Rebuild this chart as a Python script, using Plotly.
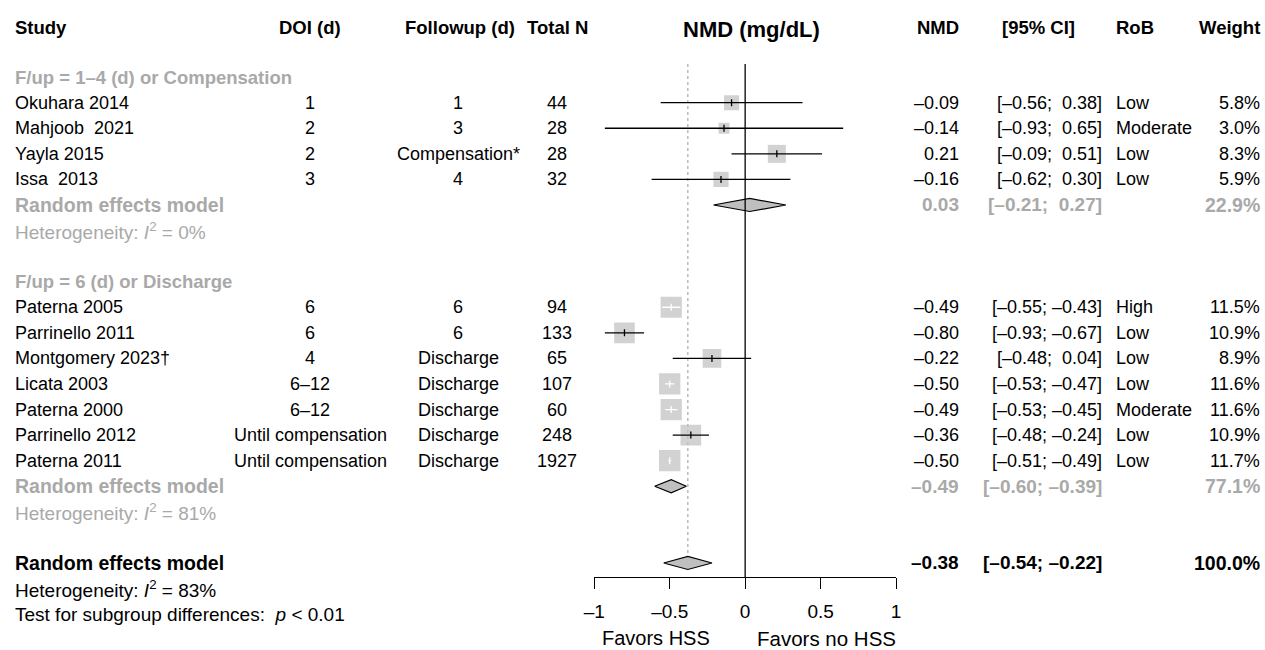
import plotly.graph_objects as go
import math

# ---------------- data ----------------
studies = ["Okuhara 2014", "Mahjoob  2021", "Yayla 2015", "Issa  2013",
           "Paterna 2005", "Parrinello 2011", "Montgomery 2023\u2020", "Licata 2003",
           "Paterna 2000", "Parrinello 2012", "Paterna 2011"]
group = [0, 0, 0, 0, 1, 1, 1, 1, 1, 1, 1]
doi = ["1", "2", "2", "3", "6", "6", "4", "6\u201312", "6\u201312",
       "Until compensation", "Until compensation"]
followup = ["1", "3", "Compensation*", "4", "6", "6", "Discharge", "Discharge",
            "Discharge", "Discharge", "Discharge"]
total_n = [44, 28, 28, 32, 94, 133, 65, 107, 60, 248, 1927]
nmd = [-0.09, -0.14, 0.21, -0.16, -0.49, -0.80, -0.22, -0.50, -0.49, -0.36, -0.50]
ci_lo = [-0.56, -0.93, -0.09, -0.62, -0.55, -0.93, -0.48, -0.53, -0.53, -0.48, -0.51]
ci_hi = [0.38, 0.65, 0.51, 0.30, -0.43, -0.67, 0.04, -0.47, -0.45, -0.24, -0.49]
rob = ["Low", "Moderate", "Low", "Low", "High", "Low", "Low", "Low", "Moderate", "Low", "Low"]
weight = [5.8, 3.0, 8.3, 5.9, 11.5, 10.9, 8.9, 11.6, 11.6, 10.9, 11.7]

sub_labels = ["F/up = 1\u20134 (d) or Compensation", "F/up = 6 (d) or Discharge"]
sub_est = [0.03, -0.49]
sub_lo = [-0.21, -0.60]
sub_hi = [0.27, -0.39]
sub_weight = [22.9, 77.1]
sub_i2 = [0, 81]

overall_est, overall_lo, overall_hi, overall_weight = -0.38, -0.54, -0.22, 100.0
overall_i2 = 83
subgroup_p = "&lt; 0.01"

headers = ["Study", "DOI (d)", "Followup (d)", "Total N", "NMD", "[95% CI]", "RoB", "Weight"]
plot_title = "NMD (mg/dL)"
tick_vals = [-1, -0.5, 0, 0.5, 1]
tick_text = ["\u20131", "\u20130.5", "0", "0.5", "1"]
label_left, label_right = "Favors HSS", "Favors no HSS"

# ---------------- layout constants ----------------
W, H = 1265, 650
ROW_PX = 25.57
R3_PX = 102.7
r_top = 3 - R3_PX / ROW_PX
r_bot = r_top + H / ROW_PX
X_L, X_R = 594.3, 896.0          # pixel of -1 and 1
PX_UNIT = (X_R - X_L) / 2.0
AXIS_PX = 577
TOP_LINE_PX = 64

def prow(px):
    return r_top + px / ROW_PX

FONT = "Liberation Sans, Arial, Helvetica, sans-serif"
F_REG = 18
F_BOLD = 18.5
F_REM = 19.5
F_HET = 19
BLACK = "#000000"
GRAY = "#a9a9a9"
SQ = "#bfbfbf"

def fnum(v):
    s = f"{abs(v):.2f}"
    return ("\u2013" + s) if v < 0 else s

def fci(lo, hi):
    def part(v):
        return ("\u2013" + f"{abs(v):.2f}") if v < 0 else ("\u00a0" + f"{v:.2f}")
    return "[" + part(lo) + "; " + part(hi) + "]"

ann = []
def txt(xpx, r, s, anchor="left", bold=False, color=BLACK, size=None):
    if size is None:
        size = F_BOLD if bold else F_REG
    s = s.replace("  ", " \u00a0")
    if bold:
        s = "<b>" + s + "</b>"
    ann.append(dict(xref="paper", yref="y", x=xpx / W, y=r, text=s,
                    xanchor=anchor, yanchor="middle", showarrow=False,
                    font=dict(family=FONT, size=size, color=color)))

COL_STUDY, COL_DOI, COL_FU, COL_N = 13, 310, 458, 557
COL_NMD, COL_CI, COL_ROB, COL_WT = 961, 1104, 1114, 1262

# headers
HR = 0.05
txt(COL_STUDY, HR, headers[0], "left", True)
txt(COL_DOI, HR, headers[1], "center", True)
txt(460, HR, headers[2], "center", True)
txt(COL_N, HR, headers[3], "center", True)
txt(COL_NMD, HR, headers[4], "right", True)
txt(1038, HR, headers[5], "center", True)
txt(COL_ROB, HR, headers[6], "left", True)
txt(COL_WT, HR, headers[7], "right", True)
txt(751, 0.12, plot_title, "center", True, size=22)

# rows
study_rows = [0] * len(studies)
sub_rows = []
r = 2
for g in range(len(sub_labels)):
    txt(COL_STUDY, r, sub_labels[g], "left", True, GRAY)
    r += 1
    for i in range(len(studies)):
        if group[i] == g:
            study_rows[i] = r
            r += 1
    sub_rows.append(r)
    r += 3
overall_row = r

for i in range(len(studies)):
    rr = study_rows[i]
    txt(COL_STUDY, rr, studies[i], "left")
    txt(COL_DOI, rr, doi[i], "center")
    txt(COL_FU, rr, followup[i], "center")
    txt(COL_N, rr, str(total_n[i]), "center")
    txt(COL_NMD, rr, fnum(nmd[i]), "right")
    txt(COL_CI, rr, fci(ci_lo[i], ci_hi[i]), "right")
    txt(COL_ROB, rr, rob[i], "left")
    txt(COL_WT, rr, f"{weight[i]:.1f}%", "right")

for g in range(len(sub_labels)):
    rr = sub_rows[g]
    txt(COL_STUDY, rr, "Random effects model", "left", True, GRAY, size=F_REM)
    txt(COL_STUDY, rr + 1, f"Heterogeneity: <i>I</i><sup>2</sup> = {sub_i2[g]}%", "left", False, GRAY, size=F_HET)
    txt(COL_NMD, rr, fnum(sub_est[g]), "right", True, GRAY, size=19)
    txt(COL_CI, rr, fci(sub_lo[g], sub_hi[g]), "right", True, GRAY, size=19)
    txt(COL_WT, rr, f"{sub_weight[g]:.1f}%", "right", True, GRAY, size=19.5)

txt(COL_STUDY, overall_row, "Random effects model", "left", True, size=F_REM)
txt(COL_STUDY, overall_row + 1, f"Heterogeneity: <i>I</i><sup>2</sup> = {overall_i2}%", "left", size=F_HET)
txt(COL_STUDY, overall_row + 2, "Test for subgroup differences:  <i>p</i> " + subgroup_p, "left", size=F_HET)
txt(COL_NMD, overall_row, fnum(overall_est), "right", True, size=19)
txt(COL_CI, overall_row, fci(overall_lo, overall_hi), "right", True, size=19)
txt(COL_WT, overall_row, f"{overall_weight:.1f}%", "right", True, size=19.5)

# favors labels
lab_r = prow(638)
ann.append(dict(xref="x", yref="y", x=0, y=lab_r, text=label_left, xanchor="right",
                yanchor="middle", xshift=-33, showarrow=False,
                font=dict(family=FONT, size=20, color=BLACK)))
ann.append(dict(xref="x", yref="y", x=0, y=lab_r, text=label_right, xanchor="left",
                yanchor="middle", xshift=10, showarrow=False,
                font=dict(family=FONT, size=20.5, color=BLACK)))

# ---------------- traces ----------------
fig = go.Figure()

sides = [6.25 * math.sqrt(w) for w in weight]
fig.add_trace(go.Scatter(x=nmd, y=study_rows, mode="markers",
                         marker=dict(symbol="square", size=sides, color=SQ, line=dict(width=0)),
                         hoverinfo="skip", showlegend=False))

tick_h = 3.5 / ROW_PX
for colr, inside in ((BLACK, False), ("#ffffff", True)):
    xs, ys = [], []
    for i in range(len(studies)):
        fits = (ci_hi[i] - ci_lo[i]) * PX_UNIT <= sides[i]
        if fits != inside:
            continue
        rr = study_rows[i]
        xs += [ci_lo[i], ci_hi[i], None, nmd[i], nmd[i], None]
        ys += [rr, rr, None, rr - tick_h, rr + tick_h, None]
    fig.add_trace(go.Scatter(x=xs, y=ys, mode="lines", line=dict(color=colr, width=1.3),
                             hoverinfo="skip", showlegend=False))

dh = 6.5 / ROW_PX
for est, lo, hi, rr in list(zip(sub_est, sub_lo, sub_hi, sub_rows)) + [(overall_est, overall_lo, overall_hi, overall_row)]:
    fig.add_trace(go.Scatter(x=[lo, est, hi, est, lo], y=[rr, rr - dh, rr, rr + dh, rr],
                             mode="lines", fill="toself", fillcolor=SQ,
                             line=dict(color=BLACK, width=1.2),
                             hoverinfo="skip", showlegend=False))

shapes = [
    dict(type="line", xref="x", yref="y", x0=overall_est, x1=overall_est,
         y0=prow(TOP_LINE_PX), y1=overall_row - dh, layer="below",
         line=dict(color="#b0b0b0", width=1.3, dash="dot")),
    dict(type="line", xref="x", yref="y", x0=0, x1=0,
         y0=prow(TOP_LINE_PX), y1=prow(AXIS_PX), layer="above",
         line=dict(color=BLACK, width=1.3)),
]

fig.update_layout(
    width=W, height=H, margin=dict(l=0, r=0, t=0, b=0, pad=0, autoexpand=False),
    paper_bgcolor="white", plot_bgcolor="white",
    showlegend=False, annotations=ann, shapes=shapes,
    xaxis=dict(domain=[X_L / W, X_R / W], range=[-1, 1], anchor="free",
               position=1 - AXIS_PX / H, showline=True, linecolor=BLACK, linewidth=1.3,
               ticks="outside", ticklen=11, tickwidth=1.3, tickcolor=BLACK,
               tickvals=tick_vals, ticktext=tick_text, showgrid=False, zeroline=False,
               automargin=False,
               tickfont=dict(family=FONT, size=19, color=BLACK), ticklabelstandoff=6),
    yaxis=dict(domain=[0, 1], range=[r_bot, r_top], visible=False, automargin=False,
               showgrid=False, zeroline=False),
)

fig.write_html("out.html")
